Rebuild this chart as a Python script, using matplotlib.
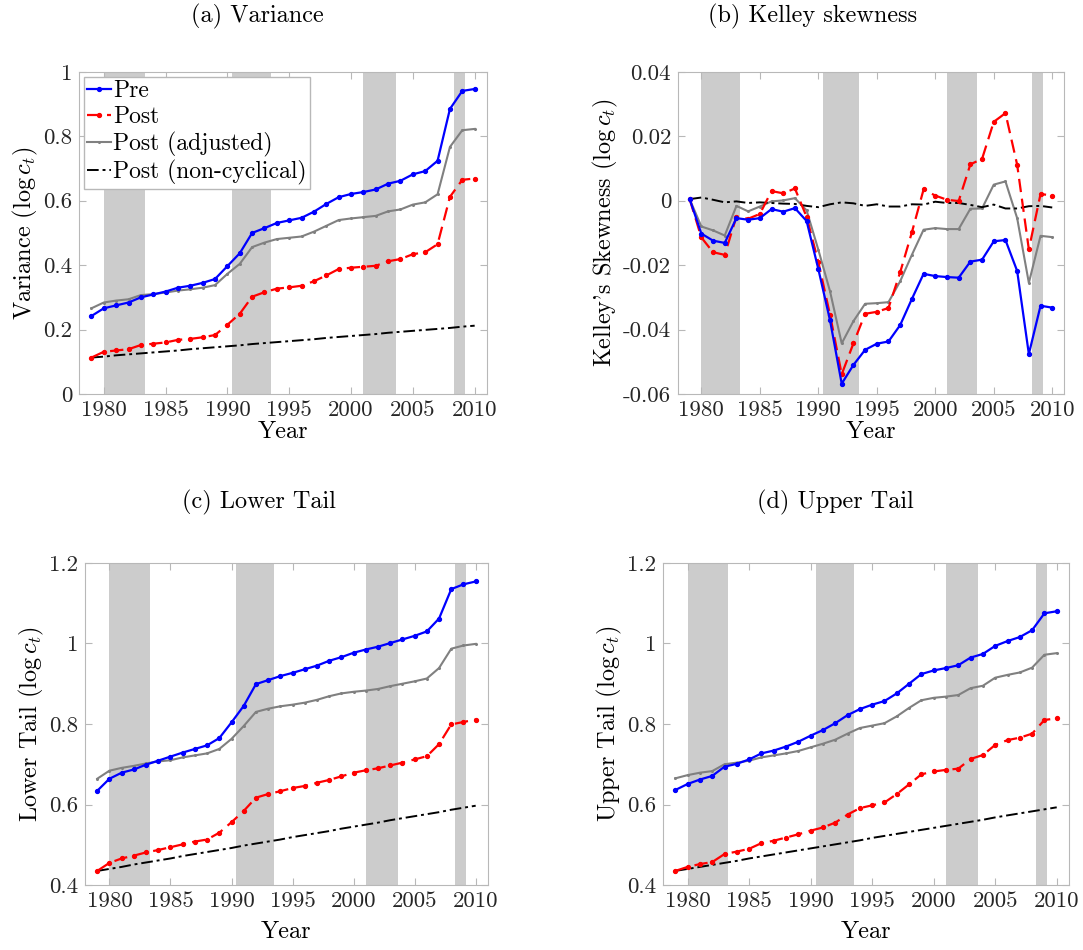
import matplotlib
matplotlib.use("Agg")
from matplotlib import pyplot as plt
from matplotlib.ticker import FuncFormatter

plt.rcParams['font.family'] = 'serif'
plt.rcParams['font.serif'] = ['cmr10', 'DejaVu Serif']
plt.rcParams['mathtext.fontset'] = 'cm'
plt.rcParams['axes.unicode_minus'] = False

years = list(range(1979, 2011))

# recession bands (start, end)
recessions = [(1980.0, 1983.3), (1990.4, 1993.5), (2001.0, 2003.6), (2008.3, 2009.2)]

# (a) Variance
var_pre = [0.242, 0.266, 0.275, 0.284, 0.300, 0.309, 0.318, 0.330, 0.336, 0.345, 0.357, 0.397,
           0.437, 0.500, 0.515, 0.531, 0.539, 0.547, 0.566, 0.590, 0.611, 0.621, 0.627, 0.635,
           0.653, 0.662, 0.682, 0.692, 0.724, 0.885, 0.941, 0.947]
var_post = [0.113, 0.131, 0.135, 0.139, 0.152, 0.156, 0.160, 0.168, 0.171, 0.176, 0.183, 0.215,
            0.249, 0.302, 0.316, 0.327, 0.331, 0.336, 0.350, 0.368, 0.388, 0.392, 0.395, 0.398,
            0.412, 0.419, 0.434, 0.440, 0.465, 0.612, 0.665, 0.669]
var_adj = [0.266, 0.284, 0.290, 0.294, 0.307, 0.310, 0.315, 0.321, 0.325, 0.330, 0.338, 0.373,
           0.404, 0.456, 0.470, 0.481, 0.485, 0.489, 0.504, 0.522, 0.540, 0.545, 0.549, 0.553,
           0.567, 0.573, 0.588, 0.595, 0.620, 0.767, 0.819, 0.823]
var_noncyc = [0.113, 0.116, 0.120, 0.123, 0.126, 0.129, 0.132, 0.135, 0.139, 0.142, 0.145, 0.148,
              0.151, 0.155, 0.158, 0.161, 0.164, 0.167, 0.170, 0.174, 0.177, 0.180, 0.183, 0.186,
              0.190, 0.193, 0.196, 0.199, 0.202, 0.205, 0.209, 0.212]

# (b) Kelley skewness
skew_pre = [0.0005, -0.0102, -0.0124, -0.0131, -0.0054, -0.0059, -0.0054, -0.0026, -0.0034, -0.0023,
            -0.0063, -0.0212, -0.0371, -0.0568, -0.0510, -0.0463, -0.0444, -0.0437, -0.0386, -0.0305,
            -0.0227, -0.0234, -0.0237, -0.0239, -0.0189, -0.0183, -0.0126, -0.0122, -0.0218, -0.0476,
            -0.0326, -0.0332]
skew_post = [0.0005, -0.0114, -0.0160, -0.0168, -0.0049, -0.0056, -0.0041, 0.0030, 0.0023, 0.0038,
             -0.0050, -0.0190, -0.0354, -0.0539, -0.0443, -0.0351, -0.0345, -0.0333, -0.0222, -0.0098,
             0.0035, 0.0016, 0.0003, -0.0001, 0.0113, 0.0130, 0.0245, 0.0272, 0.0112, -0.0151,
             0.0021, 0.0016]
skew_adj = [0.0005, -0.0080, -0.0092, -0.0108, -0.0016, -0.0033, -0.0018, -0.0002, 0.0001, 0.0008,
            -0.0030, -0.0152, -0.0281, -0.0443, -0.0374, -0.0320, -0.0318, -0.0315, -0.0250, -0.0168,
            -0.0090, -0.0085, -0.0088, -0.0088, -0.0025, -0.0024, 0.0050, 0.0060, -0.0054, -0.0255,
            -0.0109, -0.0113]
skew_noncyc = [0.0005, 0.0010, 0.0003, -0.0005, -0.0002, -0.0007, -0.0005, -0.0007, -0.0009, -0.0010,
               -0.0016, -0.0020, -0.0011, -0.0005, -0.0008, -0.0016, -0.0011, -0.0018, -0.0018, -0.0011,
               -0.0012, -0.0003, -0.0007, -0.0007, -0.0013, -0.0020, -0.0012, -0.0024, -0.0024, -0.0017,
               -0.0016, -0.0021]

# (c) Lower tail
low_pre = [0.634, 0.664, 0.679, 0.687, 0.699, 0.709, 0.719, 0.729, 0.738, 0.747, 0.765, 0.804,
           0.845, 0.899, 0.909, 0.919, 0.927, 0.936, 0.945, 0.957, 0.966, 0.977, 0.985, 0.992,
           1.001, 1.010, 1.019, 1.030, 1.062, 1.135, 1.147, 1.154]
low_post = [0.435, 0.455, 0.466, 0.473, 0.481, 0.487, 0.494, 0.501, 0.508, 0.513, 0.530, 0.556,
            0.584, 0.617, 0.626, 0.633, 0.641, 0.646, 0.654, 0.661, 0.670, 0.679, 0.685, 0.690,
            0.697, 0.704, 0.712, 0.720, 0.750, 0.799, 0.805, 0.811]
low_adj = [0.664, 0.684, 0.691, 0.696, 0.702, 0.707, 0.710, 0.717, 0.722, 0.727, 0.738, 0.763,
           0.795, 0.830, 0.838, 0.844, 0.848, 0.853, 0.860, 0.869, 0.876, 0.880, 0.883, 0.887,
           0.894, 0.900, 0.906, 0.913, 0.939, 0.987, 0.995, 0.999]
low_noncyc = [0.435, 0.440, 0.445, 0.451, 0.456, 0.461, 0.466, 0.472, 0.477, 0.482, 0.487, 0.492,
              0.498, 0.503, 0.508, 0.513, 0.519, 0.524, 0.529, 0.534, 0.540, 0.545, 0.550, 0.555,
              0.561, 0.566, 0.571, 0.576, 0.581, 0.587, 0.592, 0.597]

# (d) Upper tail
up_pre = [0.636, 0.651, 0.662, 0.671, 0.694, 0.701, 0.712, 0.727, 0.734, 0.744, 0.756, 0.771,
          0.785, 0.802, 0.822, 0.837, 0.848, 0.857, 0.876, 0.900, 0.924, 0.933, 0.939, 0.946,
          0.965, 0.974, 0.994, 1.006, 1.016, 1.033, 1.075, 1.080]
up_post = [0.435, 0.445, 0.452, 0.457, 0.477, 0.483, 0.490, 0.504, 0.510, 0.518, 0.526, 0.535,
           0.543, 0.555, 0.575, 0.591, 0.598, 0.605, 0.626, 0.650, 0.675, 0.682, 0.686, 0.689,
           0.713, 0.723, 0.748, 0.760, 0.766, 0.776, 0.810, 0.814]
up_adj = [0.665, 0.673, 0.679, 0.683, 0.700, 0.704, 0.709, 0.717, 0.722, 0.727, 0.733, 0.742,
          0.751, 0.761, 0.776, 0.790, 0.796, 0.802, 0.819, 0.840, 0.859, 0.865, 0.868, 0.872,
          0.889, 0.895, 0.915, 0.922, 0.928, 0.940, 0.972, 0.976]
up_noncyc = [0.435, 0.440, 0.445, 0.450, 0.455, 0.460, 0.466, 0.471, 0.476, 0.481, 0.486, 0.491,
             0.496, 0.501, 0.506, 0.511, 0.517, 0.522, 0.527, 0.532, 0.537, 0.542, 0.547, 0.552,
             0.557, 0.562, 0.568, 0.573, 0.578, 0.583, 0.588, 0.593]

panels = [
    ("(a) Variance", "Variance ($\\log c_t$)", var_pre, var_post, var_adj, var_noncyc,
     (0, 1), [0, 0.2, 0.4, 0.6, 0.8, 1.0]),
    ("(b) Kelley skewness", "Kelley's Skewness ($\\log c_t$)", skew_pre, skew_post, skew_adj, skew_noncyc,
     (-0.06, 0.04), [-0.06, -0.04, -0.02, 0, 0.02, 0.04]),
    ("(c) Lower Tail", "Lower Tail ($\\log c_t$)", low_pre, low_post, low_adj, low_noncyc,
     (0.4, 1.2), [0.4, 0.6, 0.8, 1.0, 1.2]),
    ("(d) Upper Tail", "Upper Tail ($\\log c_t$)", up_pre, up_post, up_adj, up_noncyc,
     (0.4, 1.2), [0.4, 0.6, 0.8, 1.0, 1.2]),
]

# axes rectangles in figure fractions, and title anchor points
rects = [(0.073, 0.5853, 0.3767, 0.339), (0.626, 0.5853, 0.3564, 0.339),
         (0.0785, 0.0684, 0.372, 0.339), (0.6122, 0.0684, 0.3749, 0.339)]
title_pos = [(0.238, 0.983), (0.750, 0.983), (0.239, 0.471), (0.771, 0.471)]
xlabel_pad = [0, 0, 7, 7]

fig = plt.figure(figsize=(10.83, 9.5), dpi=100)
edge = '#b8b8b8'

for i, (title, ylab, pre, post, adj, noncyc, ylim, yticks) in enumerate(panels):
    ax = fig.add_axes(rects[i])
    for a, b in recessions:
        ax.axvspan(a, b, color='#cccccc', lw=0, zorder=0)
    ax.plot(years, pre, '-', color='#0000ff', lw=1.6, marker='o', ms=2.8, label='Pre', zorder=4)
    ax.plot(years, post, color='#ff0000', lw=1.6, ls=(0, (6, 3)), marker='o', ms=2.8,
            label='Post', zorder=3)
    ax.plot(years, adj, '-', color='#808080', lw=1.5, marker='o', ms=1.2,
            label='Post (adjusted)', zorder=2)
    ax.plot(years, noncyc, color='black', lw=1.4, ls=(0, (6, 2, 1.5, 2)),
            label='Post (non-cyclical)', zorder=2)
    ax.set_xlim(1978, 2011)
    ax.set_ylim(*ylim)
    ax.set_xticks([1980, 1985, 1990, 1995, 2000, 2005, 2010])
    ax.set_yticks(yticks)
    ax.yaxis.set_major_formatter(FuncFormatter(lambda v, p: f"{v:g}"))
    ax.tick_params(direction='in', top=True, right=True, length=5, color=edge,
                   labelsize=16.5, labelcolor='#262626', pad=5)
    for s in ax.spines.values():
        s.set_color(edge)
    ax.set_xlabel('Year', fontsize=17.5, labelpad=xlabel_pad[i])
    ax.set_ylabel(ylab, fontsize=17.5, labelpad=2)
    fig.text(title_pos[i][0], title_pos[i][1], title, ha='center', va='center', fontsize=17.5)
    if i == 0:
        leg = ax.legend(loc='upper left', fontsize=17, handlelength=1.0, handletextpad=0.1,
                        labelspacing=0.15, borderpad=0.15, borderaxespad=0.2,
                        fancybox=False, framealpha=1)
        leg.get_frame().set_edgecolor(edge)

fig.savefig('out.png', dpi=100)
